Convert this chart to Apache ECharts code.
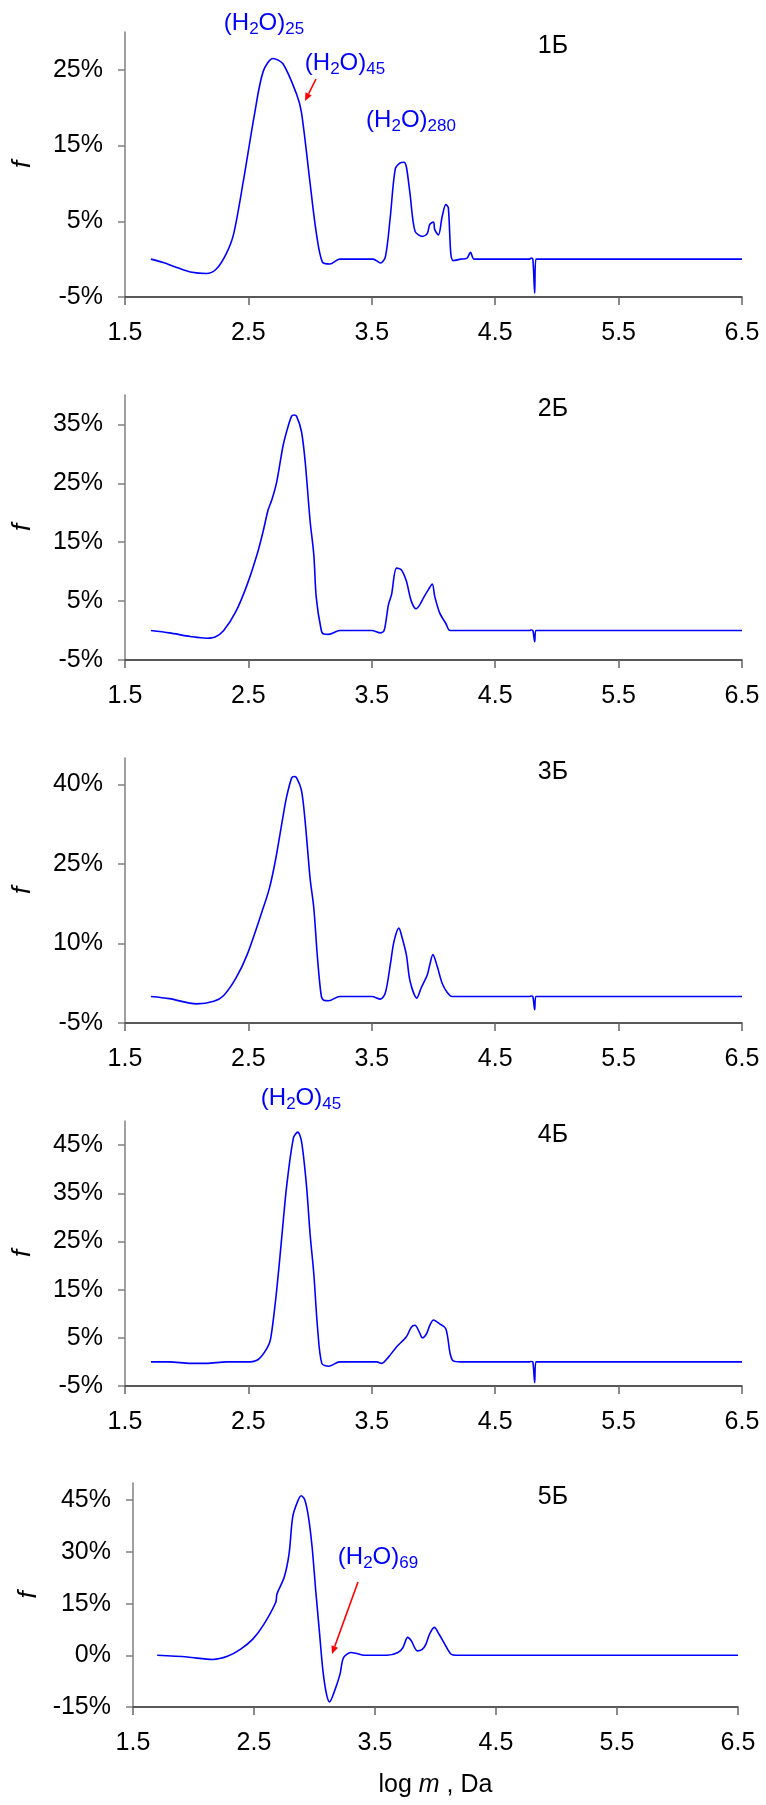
<!DOCTYPE html>
<html>
<head>
<meta charset="utf-8">
<title>f vs log m</title>
<script src="https://cdn.jsdelivr.net/npm/echarts@6.0.0/dist/echarts.min.js"></script>
<style>
  html, body { margin: 0; padding: 0; background: #fff; }
  #main { width: 766px; height: 1805px; }
</style>
</head>
<body>
<div id="main"></div>
<script>
// log m values (x) and f, % (y) for every panel
var x1 = [1.71, 1.81, 1.92, 2.03, 2.16, 2.24, 2.32, 2.38, 2.46, 2.55, 2.62, 2.70, 2.78, 2.89, 2.93, 3.00, 3.05, 3.10, 3.16, 3.24, 3.51, 3.57, 3.61, 3.65, 3.69, 3.73, 3.76, 3.78, 3.81, 3.85, 3.91, 3.95, 3.97, 4.00, 4.01, 4.04, 4.07, 4.10, 4.12, 4.14, 4.16, 4.22, 4.27, 4.30, 4.33, 4.78, 4.79, 4.805, 4.82, 4.83, 6.5];
var f1 = [0, -0.45, -1.1, -1.7, -1.9, -1.3, 0.7, 3.3, 10.4, 19.2, 24.8, 26.5, 25.8, 21.8, 19.4, 10.0, 3.5, -0.4, -0.65, 0, 0, -0.5, 0.3, 5.6, 11.9, 12.7, 12.8, 12.2, 8.6, 3.7, 3.0, 3.4, 4.6, 4.9, 3.9, 3.2, 5.6, 7.2, 6.8, 0.8, -0.2, 0, 0.1, 0.9, 0, 0, 0.15, 0, -4.5, 0, 0];

var x2 = [1.71, 1.86, 2.03, 2.16, 2.23, 2.30, 2.40, 2.49, 2.57, 2.62, 2.66, 2.69, 2.73, 2.78, 2.81, 2.85, 2.87, 2.89, 2.93, 2.96, 3.00, 3.03, 3.05, 3.09, 3.11, 3.15, 3.24, 3.50, 3.57, 3.60, 3.635, 3.66, 3.70, 3.74, 3.78, 3.82, 3.86, 3.89, 3.92, 3.96, 3.99, 4.01, 4.05, 4.10, 4.135, 4.78, 4.79, 4.805, 4.82, 4.83, 6.5];
var f2 = [0, -0.4, -1.0, -1.3, -1.1, 0, 3.3, 7.8, 12.9, 16.9, 20.5, 22.2, 25.3, 31.3, 33.8, 36.4, 36.6, 36.4, 33.8, 28.7, 18.6, 12.9, 5.6, 0.1, -0.6, -0.65, 0, 0, -0.4, 0, 4.4, 6.1, 10.6, 10.3, 8.4, 5.0, 3.7, 4.4, 5.6, 7.0, 7.9, 5.8, 3.0, 1.2, 0, 0, 0.1, 0, -1.9, 0, 0];

var x3 = [1.71, 1.86, 2.08, 2.22, 2.30, 2.40, 2.49, 2.61, 2.67, 2.72, 2.78, 2.81, 2.85, 2.87, 2.89, 2.93, 2.96, 3.00, 3.03, 3.06, 3.09, 3.11, 3.15, 3.24, 3.50, 3.57, 3.61, 3.65, 3.68, 3.72, 3.74, 3.78, 3.81, 3.865, 3.90, 3.95, 3.97, 3.995, 4.03, 4.07, 4.11, 4.15, 4.78, 4.79, 4.805, 4.82, 4.83, 6.5];
var f3 = [0, -0.4, -1.4, -0.9, 0.2, 3.5, 7.9, 16.0, 20.4, 25.8, 33.9, 37.7, 41.2, 41.5, 41.3, 38.9, 33.0, 22.3, 16.7, 7.2, 0.2, -0.7, -0.8, 0, 0, -0.5, 0.7, 6.0, 10.4, 12.9, 11.6, 7.9, 2.9, -0.3, 1.6, 4.1, 6.0, 7.9, 5.7, 2.5, 0.8, 0, 0, 0.1, 0, -2.5, 0, 0];

var x4 = [1.71, 1.86, 2.03, 2.16, 2.32, 2.49, 2.58, 2.65, 2.68, 2.72, 2.75, 2.78, 2.81, 2.865, 2.90, 2.93, 2.97, 3.00, 3.03, 3.06, 3.095, 3.15, 3.24, 3.54, 3.58, 3.635, 3.70, 3.78, 3.82, 3.85, 3.885, 3.91, 3.945, 3.97, 4.00, 4.05, 4.10, 4.135, 4.16, 4.22, 4.78, 4.79, 4.805, 4.82, 4.83, 6.5];
var f4 = [0, 0, -0.3, -0.3, 0, 0, 0.5, 2.8, 4.8, 12.7, 20.3, 28.6, 36.5, 46.5, 47.7, 45.8, 36.8, 26.5, 18.3, 7.2, -0.3, -0.9, 0, 0, -0.3, 1.0, 3.1, 5.2, 7.2, 7.6, 6.2, 5.0, 5.9, 7.6, 8.7, 7.9, 6.9, 1.7, 0.2, 0, 0, 0.1, 0, -4.3, 0, 0];

var x5 = [1.70, 1.95, 2.16, 2.28, 2.39, 2.49, 2.58, 2.68, 2.69, 2.75, 2.79, 2.82, 2.86, 2.89, 2.92, 2.95, 2.98, 3.01, 3.04, 3.07, 3.10, 3.125, 3.16, 3.21, 3.24, 3.30, 3.35, 3.41, 3.60, 3.69, 3.73, 3.77, 3.80, 3.85, 3.89, 3.92, 3.95, 3.99, 4.03, 4.085, 4.13, 4.17, 6.5];
var f5 = [0, -0.5, -1.2, -0.3, 1.8, 4.7, 8.9, 15.4, 17.8, 22.7, 29.5, 40.2, 44.6, 46.3, 45.1, 40.2, 31.5, 18.8, 7.1, -4.6, -11.4, -13.5, -10.9, -5.6, -0.7, 0.8, 0.5, 0, 0, 0.8, 2.2, 5.2, 4.2, 1.3, 1.75, 3.2, 6.1, 8.1, 6.1, 2.7, 0.3, 0, 0];

// tick labels
var xTicks = [1.5, 2.5, 3.5, 4.5, 5.5, 6.5];
var yTicks1 = [-5, 5, 15, 25];
var yTicks2 = [-5, 5, 15, 25, 35];
var yTicks3 = [-5, 10, 25, 40];
var yTicks4 = [-5, 5, 15, 25, 35, 45];
var yTicks5 = [-15, 0, 15, 30, 45];
var panelNames = ['1Б', '2Б', '3Б', '4Б', '5Б'];

var FONT = '"Liberation Sans", Arial, sans-serif';

var panels = [
  {x: x1, f: f1, min: -5, max: 30, ticks: yTicks1, grid: {left: 125, top: 32, width: 617, height: 265}},
  {x: x2, f: f2, min: -5, max: 40, ticks: yTicks2, grid: {left: 125, top: 395, width: 617, height: 265}},
  {x: x3, f: f3, min: -5, max: 45, ticks: yTicks3, grid: {left: 125, top: 758, width: 617, height: 265}},
  {x: x4, f: f4, min: -5, max: 50, ticks: yTicks4, grid: {left: 125, top: 1121, width: 617, height: 265}},
  {x: x5, f: f5, min: -15, max: 50, ticks: yTicks5, grid: {left: 133, top: 1483, width: 605, height: 224}}
];

// red arrow = line + small triangle head at (x2, y2)
function arrow(x1, y1, x2, y2) {
  var dx = x2 - x1, dy = y2 - y1;
  var len = Math.sqrt(dx * dx + dy * dy);
  var ux = dx / len, uy = dy / len;
  var bx = x2 - ux * 8, by = y2 - uy * 8;
  return [
    {type: 'line', shape: {x1: x1, y1: y1, x2: bx, y2: by}, style: {stroke: '#ff0000', lineWidth: 1.6}},
    {type: 'polygon', shape: {points: [[x2, y2], [bx - uy * 3.5, by + ux * 3.5], [bx + uy * 3.5, by - ux * 3.5]]}, style: {fill: '#ff0000'}}
  ];
}

// blue (H2O)n label
function h2o(n, cx, cy) {
  return {
    type: 'text', x: cx, y: cy,
    style: {
      text: '{m|(H}{s|2}{m|O)}{s|' + n + '}',
      align: 'center', verticalAlign: 'middle',
      rich: {
        m: {fontSize: 24, fontFamily: FONT, fill: '#0000ff', lineHeight: 30, verticalAlign: 'middle'},
        s: {fontSize: 17, fontFamily: FONT, fill: '#0000ff', lineHeight: 17, verticalAlign: 'bottom'}
      }
    }
  };
}

var graphics = [];
panels.forEach(function (p, i) {
  graphics.push({
    type: 'text', x: 553, y: p.grid.top + 14,
    style: {text: panelNames[i], font: '25px ' + FONT, fill: '#000', align: 'center', verticalAlign: 'middle'}
  });
});
graphics.push(h2o('25', 264, 23));
graphics.push(h2o('45', 345, 63));
graphics.push(h2o('280', 411, 120));
graphics.push(h2o('45', 301, 1098));
graphics.push(h2o('69', 378, 1557));
graphics = graphics.concat(arrow(316, 79, 305, 101));
graphics = graphics.concat(arrow(358, 1582, 332, 1654));

var option = {
  animation: false,
  backgroundColor: '#fff',
  grid: panels.map(function (p) { return p.grid; }),
  xAxis: panels.map(function (p, i) {
    return {
      gridIndex: i,
      type: 'value',
      min: 1.5,
      max: 6.5,
      name: i === 4 ? '{a|log }{b|m}{a| , Da}' : '',
      nameLocation: 'middle',
      nameGap: 66,
      nameTextStyle: {
        rich: {
          a: {fontSize: 25, fontFamily: FONT, color: '#000'},
          b: {fontSize: 25, fontFamily: FONT, color: '#000', fontStyle: 'italic'}
        }
      },
      axisLine: {onZero: false, lineStyle: {color: '#222', width: 1.5}},
      axisTick: {customValues: xTicks, length: 8, lineStyle: {color: '#666', width: 1.5}},
      axisLabel: {
        customValues: xTicks, margin: 24, fontSize: 25, fontFamily: FONT, color: '#000',
        formatter: function (v) { return v.toFixed(1); }
      },
      splitLine: {show: false}
    };
  }),
  yAxis: panels.map(function (p, i) {
    return {
      gridIndex: i,
      type: 'value',
      min: p.min,
      max: p.max,
      name: 'f',
      nameLocation: 'middle',
      nameRotate: 90,
      nameGap: 89,
      nameTextStyle: {fontSize: 26, fontFamily: FONT, fontStyle: 'italic', color: '#000'},
      axisLine: {show: true, onZero: false, lineStyle: {color: '#808080', width: 1.5}},
      axisTick: {show: true, customValues: p.ticks, length: 7, lineStyle: {color: '#808080', width: 1.5}},
      axisLabel: {
        customValues: p.ticks, margin: 22, fontSize: 25, fontFamily: FONT, color: '#000',
        formatter: function (v) { return v + '%'; }
      },
      splitLine: {show: false}
    };
  }),
  series: panels.map(function (p, i) {
    return {
      type: 'line',
      xAxisIndex: i,
      yAxisIndex: i,
      data: p.x.map(function (v, k) { return [v, p.f[k]]; }),
      symbol: 'none',
      smooth: 0.3,
      lineStyle: {color: '#0000ff', width: 1.6}
    };
  }),
  graphic: graphics
};

var chart = echarts.init(document.getElementById('main'));
chart.setOption(option);
</script>
</body>
</html>
